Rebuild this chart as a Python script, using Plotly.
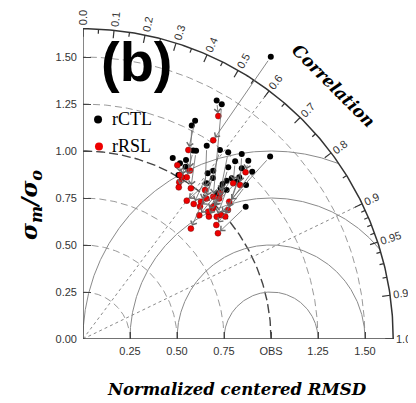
import numpy as np
import plotly.graph_objects as go

# ---------------- data: normalized std (sigma_m/sigma_o) and correlation ----------------
ctl_std = [1.803, 1.454, 1.450, 1.305, 1.274, 1.161, 1.168, 1.221, 1.241, 1.258, 1.297, 1.075,
           1.098, 1.245, 1.293, 1.390, 1.009, 1.066, 1.196, 1.132, 1.103, 1.240, 1.266, 1.165,
           1.137, 1.110, 1.086, 1.101, 1.054, 1.115, 1.196, 1.058, 1.170, 1.068, 1.100, 1.193]
ctl_cor = [0.554, 0.489, 0.509, 0.457, 0.454, 0.505, 0.515, 0.539, 0.587, 0.614, 0.651, 0.444,
           0.499, 0.650, 0.680, 0.716, 0.503, 0.512, 0.646, 0.612, 0.601, 0.681, 0.711, 0.679,
           0.672, 0.669, 0.674, 0.694, 0.677, 0.776, 0.695, 0.622, 0.699, 0.483, 0.628, 0.727]
rsl_std = [1.264, 1.387, 1.026, 1.151, 1.061, 1.022, 0.986, 1.024, 0.994, 1.064, 1.170, 1.052,
           1.008, 1.151, 1.239, 1.067, 0.979, 0.954, 1.041, 0.963, 0.929, 0.998, 0.986, 0.979,
           0.934, 0.950, 0.940, 0.964, 0.903, 0.912, 1.032, 0.920, 0.988, 1.013, 0.821, 0.933]
rsl_cor = [0.548, 0.519, 0.675, 0.487, 0.536, 0.540, 0.582, 0.634, 0.660, 0.685, 0.714, 0.477,
           0.521, 0.694, 0.698, 0.729, 0.523, 0.534, 0.696, 0.652, 0.634, 0.758, 0.743, 0.705,
           0.717, 0.701, 0.662, 0.738, 0.685, 0.787, 0.747, 0.600, 0.701, 0.509, 0.699, 0.760]

series_names = ["rCTL", "rRSL"]

# axis / grid definitions
R_MAX = 1.65
std_ticks = [0.0, 0.25, 0.5, 0.75, 1.0, 1.25, 1.5]
std_ticktext = ["0.00", "0.25", "0.50", "0.75", "1.00", "1.25", "1.50"]
x_ticks = [0.25, 0.5, 0.75, 1.0, 1.25, 1.5]
x_ticktext = ["0.25", "0.50", "0.75", "OBS", "1.25", "1.50"]
std_arcs = [0.25, 0.5, 0.75, 1.25, 1.5]
obs_arc = 1.0
rms_radii = [0.25, 0.5, 0.75, 1.0]
cor_major = [0.0, 0.1, 0.2, 0.3, 0.4, 0.5, 0.6, 0.7, 0.8, 0.9, 0.95, 0.99, 1.0]
cor_major_text = ["0.0", "0.1", "0.2", "0.3", "0.4", "0.5", "0.6", "0.7", "0.8", "0.9",
                  "0.95", "0.99", "1.0"]
cor_minor = [0.05, 0.15, 0.25, 0.35, 0.45, 0.55, 0.65, 0.75, 0.85,
             0.91, 0.92, 0.93, 0.94, 0.96, 0.97, 0.98]
cor_rays = [0.6, 0.9]

PX = 188.0  # pixels per unit (for text offsets only)
PLOT = 329.0  # plot-area size in px


def to_xy(s, c):
    s = np.asarray(s, float)
    c = np.asarray(c, float)
    return s * c, s * np.sqrt(1 - c ** 2)


fig = go.Figure()
line_kw = dict(mode="lines", hoverinfo="skip", showlegend=False)

# std dashed arcs
th = np.linspace(0, np.pi / 2, 200)
for r in std_arcs:
    fig.add_trace(go.Scatter(x=r * np.cos(th), y=r * np.sin(th),
                             line=dict(color="#9a9a9a", width=1, dash="7px,4px"), **line_kw))
fig.add_trace(go.Scatter(x=obs_arc * np.cos(th), y=obs_arc * np.sin(th),
                         line=dict(color="#444444", width=1.4, dash="9px,4px"), **line_kw))

# centered RMSD arcs around OBS
ph = np.linspace(0, np.pi, 800)
for R in rms_radii:
    xx = 1 + R * np.cos(ph)
    yy = R * np.sin(ph)
    m = (xx >= 0) & (xx ** 2 + yy ** 2 <= R_MAX ** 2)
    fig.add_trace(go.Scatter(x=xx[m], y=yy[m], line=dict(color="#8a8a8a", width=1), **line_kw))

# correlation rays
for c in cor_rays:
    fig.add_trace(go.Scatter(x=[0, R_MAX * c], y=[0, R_MAX * np.sqrt(1 - c * c)],
                             line=dict(color="#8a8a8a", width=1, dash="dot"), **line_kw))

# outer arc and axes
fig.add_trace(go.Scatter(x=R_MAX * np.cos(th), y=R_MAX * np.sin(th),
                         line=dict(color="#333333", width=1.5), **line_kw))
fig.add_trace(go.Scatter(x=[0, 0], y=[0, R_MAX], line=dict(color="#444444", width=1.3), **line_kw))
fig.add_trace(go.Scatter(x=[0, R_MAX], y=[0, 0], line=dict(color="#444444", width=1.3), **line_kw))

# correlation ticks
tx, ty = [], []
for c in cor_major:
    a = np.arccos(c)
    r0 = R_MAX - 8 / PX
    tx += [r0 * np.cos(a), R_MAX * np.cos(a), None]
    ty += [r0 * np.sin(a), R_MAX * np.sin(a), None]
for c in cor_minor:
    a = np.arccos(c)
    r0 = R_MAX - 4.5 / PX
    tx += [r0 * np.cos(a), R_MAX * np.cos(a), None]
    ty += [r0 * np.sin(a), R_MAX * np.sin(a), None]
fig.add_trace(go.Scatter(x=tx, y=ty, line=dict(color="#333333", width=1.2), **line_kw))

annotations = []
for c, t in zip(cor_major, cor_major_text):
    a = np.arccos(c)
    half = (len(t) - 1) * 6.1 / 2 + 1.5
    rr = R_MAX + (3 + half) / PX
    annotations.append(dict(x=rr * np.cos(a), y=rr * np.sin(a), xref="x", yref="y",
                            text=t, showarrow=False, textangle=-np.degrees(a),
                            xanchor="center", yanchor="middle",
                            font=dict(family="Liberation Sans", size=11, color="#333333")))

# data
cx, cy = to_xy(ctl_std, ctl_cor)
rx, ry = to_xy(rsl_std, rsl_cor)
for i in range(len(cx)):
    annotations.append(dict(x=rx[i], y=ry[i], ax=cx[i], ay=cy[i], xref="x", yref="y",
                            axref="x", ayref="y", text="", showarrow=True,
                            arrowhead=4, arrowsize=1.6, arrowwidth=0.8, arrowcolor="#6a6a6a",
                            standoff=3, startstandoff=3))

fig.add_trace(go.Scatter(x=cx, y=cy, mode="markers", name=series_names[0], showlegend=False,
                         marker=dict(color="black", size=6)))
fig.add_trace(go.Scatter(x=rx, y=ry, mode="markers", name=series_names[1], showlegend=False,
                         marker=dict(color="#ee0000", size=6, line=dict(color="#550000", width=0.4))))

# legend (manual)
fig.add_trace(go.Scatter(x=[0.080, 0.085], y=[1.168, 1.024], mode="markers", showlegend=False,
                         hoverinfo="skip", marker=dict(color=["black", "#ee0000"], size=8)))
for yv, nm in zip([1.168, 1.024], series_names):
    annotations.append(dict(x=0.142, y=yv, xref="x", yref="y", text=nm, showarrow=False,
                            xanchor="left", yanchor="middle",
                            font=dict(family="Liberation Serif", size=18, color="black")))

# panel label
annotations.append(dict(x=0.285, y=1.475, xref="x", yref="y", text="<b>(b)</b>", showarrow=False,
                        xanchor="center", yanchor="middle",
                        font=dict(family="Liberation Sans", size=56, color="black")))
# Correlation label
annotations.append(dict(x=1.335, y=1.346, xref="x", yref="y", text="<b><i>Correlation</i></b>",
                        showarrow=False, textangle=45, xanchor="center", yanchor="middle",
                        font=dict(family="DejaVu Serif", size=17, color="black")))
# x title (paper coords: outside the axis range)
annotations.append(dict(x=(237 - 83) / PLOT, y=(339 - 389) / PLOT, xref="paper", yref="paper",
                        text="<b><i>Normalized centered RMSD</i></b>", showarrow=False,
                        xanchor="center", yanchor="middle",
                        font=dict(family="DejaVu Serif", size=16.5, color="black")))
# y title
annotations.append(dict(x=(30 - 83) / PLOT, y=(339 - 205) / PLOT, xref="paper", yref="paper",
                        text="<b><i>σ<sub>m</sub>/σ<sub>o</sub></i></b>", showarrow=False,
                        textangle=-90, xanchor="center", yanchor="middle",
                        font=dict(family="DejaVu Serif", size=23, color="black")))

# page body has an 8px margin: figure is sized so the plot lands where the reference has it
fig.update_layout(
    width=408, height=395,
    margin=dict(l=75, r=4, t=2, b=64),
    paper_bgcolor="white", plot_bgcolor="white",
    annotations=annotations,
    xaxis=dict(range=[0, 1.75], showgrid=False, zeroline=False, showline=False,
               ticks="inside", ticklen=7, tickwidth=1.2, tickcolor="#444444",
               tickvals=x_ticks, ticktext=x_ticktext, ticklabelstandoff=4,
               tickfont=dict(family="Liberation Sans", size=11, color="#333333")),
    yaxis=dict(range=[0, 1.75], showgrid=False, zeroline=False, showline=False,
               ticks="inside", ticklen=8, tickwidth=1.2, tickcolor="#444444",
               tickvals=std_ticks, ticktext=std_ticktext, ticklabelstandoff=5,
               tickfont=dict(family="Liberation Sans", size=11, color="#333333")),
)

fig.write_html("out.html")
